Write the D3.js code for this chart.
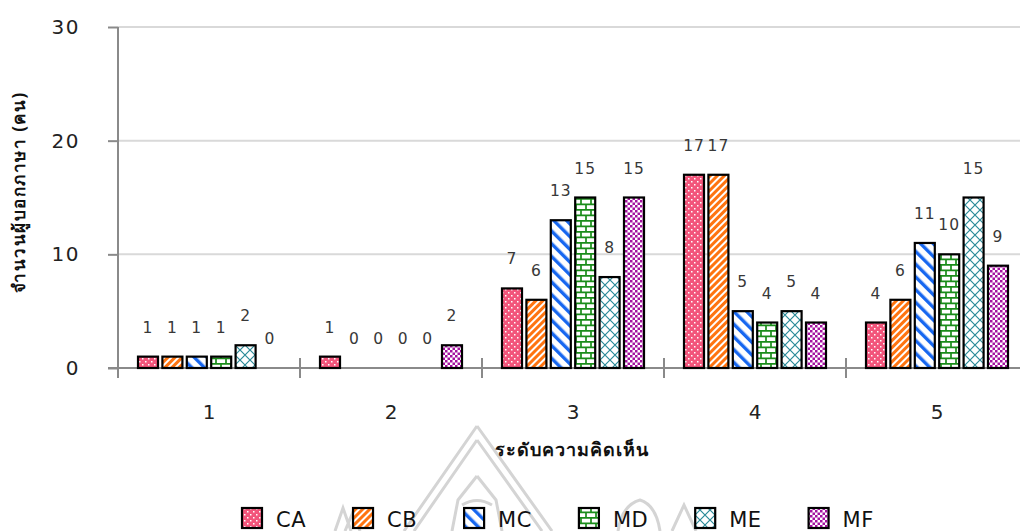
<!DOCTYPE html>
<html>
<head>
<meta charset="utf-8">
<script src="https://cdn.jsdelivr.net/npm/d3@7/dist/d3.min.js"></script>
<style>
  html, body { margin: 0; padding: 0; background: #fff; }
  svg { display: block; }
</style>
</head>
<body>
<svg id="chart" width="1020" height="531"></svg>
<script>
// Opinion level categories (x axis)
const categories = ["1", "2", "3", "4", "5"];
// Series names
const seriesNames = ["CA", "CB", "MC", "MD", "ME", "MF"];
// Number of respondents per series, one value per opinion level
const CA = [1, 1, 7, 17, 4];
const CB = [1, 0, 6, 17, 6];
const MC = [1, 0, 13, 5, 11];
const MD = [1, 0, 15, 4, 10];
const ME = [2, 0, 8, 5, 15];
const MF = [0, 2, 15, 4, 9];
const seriesValues = [CA, CB, MC, MD, ME, MF];
// Y axis ticks
const yTicks = [0, 10, 20, 30];

const svg = d3.select("#chart");
const defs = svg.append("defs");

// ---- fill patterns ----
function pat(id, w, h, transform) {
  const p = defs.append("pattern").attr("id", id)
    .attr("patternUnits", "userSpaceOnUse").attr("width", w).attr("height", h);
  if (transform) p.attr("patternTransform", transform);
  return p;
}
// CA: pink with white dots
{
  const p = pat("pCA", 6, 6);
  p.append("rect").attr("width", 6).attr("height", 6).attr("fill", "#f2557b");
  p.append("rect").attr("x", 1).attr("y", 1).attr("width", 1.5).attr("height", 1.5).attr("fill", "#fff");
  p.append("rect").attr("x", 4).attr("y", 4).attr("width", 1.5).attr("height", 1.5).attr("fill", "#fff");
}
// CB: orange narrow "/" stripes
{
  const p = pat("pCB", 5, 5, "rotate(45)");
  p.append("rect").attr("width", 5).attr("height", 5).attr("fill", "#fff");
  p.append("rect").attr("width", 3).attr("height", 5).attr("fill", "#ff7410");
}
// MC: blue wide "\" stripes
{
  const p = pat("pMC", 9, 9, "rotate(-45)");
  p.append("rect").attr("width", 9).attr("height", 9).attr("fill", "#fff");
  p.append("rect").attr("width", 3.4).attr("height", 9).attr("fill", "#1767f0");
}
// MD: green bricks
{
  const p = pat("pMD", 10, 11);
  p.append("rect").attr("width", 10).attr("height", 11).attr("fill", "#fff");
  p.append("path")
    .attr("d", "M0,0.8H10M0,6.3H10M1,0.8V6.3M6,6.3V11.8")
    .attr("stroke", "#1a8c1a").attr("stroke-width", 1.7).attr("fill", "none");
}
// ME: teal lattice
{
  const p = pat("pME", 10, 10);
  p.append("rect").attr("width", 10).attr("height", 10).attr("fill", "#fff");
  p.append("path")
    .attr("d", "M0,0L10,10M10,0L0,10")
    .attr("stroke", "#2a8a98").attr("stroke-width", 1.2).attr("fill", "none");
}
// MF: purple checkerboard
{
  const p = pat("pMF", 5, 5);
  p.append("rect").attr("width", 5).attr("height", 5).attr("fill", "#fff");
  p.append("rect").attr("width", 2.5).attr("height", 2.5).attr("fill", "#a3129f");
  p.append("rect").attr("x", 2.5).attr("y", 2.5).attr("width", 2.5).attr("height", 2.5).attr("fill", "#a3129f");
}
const fills = seriesNames.map(s => `url(#p${s})`);

// ---- faint crest in the background ----
const crest = svg.append("g").attr("fill", "none").attr("stroke", "#d4d4d4").attr("stroke-width", 3);
crest.append("path").attr("d", "M477,426L404,531M477,426L552,531");
crest.append("path").attr("d", "M477,440L414,531M477,440L542,531");
crest.append("path").attr("d", "M477,476L458,500L452,531M477,476L496,500L502,531");
crest.append("path").attr("d", "M462,505Q477,496 492,505");
crest.append("path").attr("d", "M335,531L343,508L351,531M345,531L353,512L360,531");
crest.append("path").attr("d", "M618,531Q622,505 640,500Q656,505 660,531");
crest.append("path").attr("d", "M672,531L684,505L696,531");

// ---- scales ----
const x0 = d3.scaleBand().domain(categories).range([118, 1028]).padding(0);
const x1 = d3.scaleBand().domain(seriesNames).range([20, 162]).paddingInner(0.18).paddingOuter(0);
const y = d3.scaleLinear().domain([0, 30]).range([368, 27]);

// gridlines
svg.append("g").selectAll("line").data(yTicks.filter(d => d > 0)).join("line")
  .attr("x1", 118).attr("x2", 1020)
  .attr("y1", d => y(d)).attr("y2", d => y(d))
  .attr("stroke", "#d9d9d9").attr("stroke-width", 2);

// y axis
const yAxis = svg.append("g").attr("transform", "translate(118,0)")
  .call(d3.axisLeft(y).tickValues(yTicks).tickSize(10).tickPadding(28));
yAxis.select(".domain").remove();
yAxis.selectAll(".tick line").attr("stroke", "#8a8a8a").attr("stroke-width", 2);
yAxis.selectAll(".tick text")
  .attr("font-family", "DejaVu Sans, sans-serif").attr("font-size", 20)
  .attr("fill", "#222").attr("letter-spacing", 1.5);
svg.append("line").attr("x1", 118).attr("x2", 118).attr("y1", 27).attr("y2", 378)
  .attr("stroke", "#8a8a8a").attr("stroke-width", 2);

// x axis
svg.append("line").attr("x1", 108).attr("x2", 1020).attr("y1", 368).attr("y2", 368)
  .attr("stroke", "#8a8a8a").attr("stroke-width", 2);
svg.append("g").selectAll("line").data(categories).join("line")
  .attr("x1", d => x0(d)).attr("x2", d => x0(d))
  .attr("y1", 358).attr("y2", 378)
  .attr("stroke", "#8a8a8a").attr("stroke-width", 2);
svg.append("g").selectAll("text").data(categories).join("text")
  .attr("x", d => x0(d) + x0.bandwidth() / 2).attr("y", 419)
  .attr("text-anchor", "middle")
  .attr("font-family", "DejaVu Sans, sans-serif").attr("font-size", 20)
  .attr("fill", "#222").text(d => d);

// bars
const barData = [];
seriesNames.forEach((s, si) => {
  categories.forEach((c, ci) => barData.push({ s, si, c, v: seriesValues[si][ci] }));
});
svg.append("g").selectAll("rect").data(barData.filter(d => d.v > 0)).join("rect")
  .attr("x", d => x0(d.c) + x1(d.s))
  .attr("y", d => y(d.v))
  .attr("width", x1.bandwidth())
  .attr("height", d => y(0) - y(d.v))
  .attr("fill", d => fills[d.si])
  .attr("stroke", "#000").attr("stroke-width", 2.2);

// value labels
svg.append("g").selectAll("text").data(barData).join("text")
  .attr("x", d => x0(d.c) + x1(d.s) + x1.bandwidth() / 2)
  .attr("y", d => y(d.v) - 24)
  .attr("text-anchor", "middle")
  .attr("font-family", "DejaVu Sans, sans-serif").attr("font-size", 15.5)
  .attr("letter-spacing", 1)
  .attr("fill", "#383838").text(d => d.v);

// axis titles
svg.append("text").attr("x", 572).attr("y", 456).attr("text-anchor", "middle")
  .attr("font-family", "Noto Sans, DejaVu Sans, sans-serif").attr("font-weight", "bold")
  .attr("font-size", 18).attr("letter-spacing", 1).attr("fill", "#111").text("ระดับความคิดเห็น");
svg.append("text").attr("transform", "translate(25,192) rotate(-90)").attr("text-anchor", "middle")
  .attr("font-family", "Noto Sans, DejaVu Sans, sans-serif").attr("font-weight", "bold")
  .attr("font-size", 17).attr("letter-spacing", 1.5).attr("fill", "#111").text("จำนวนผู้บอกภาษา (คน)");

// legend
const legend = svg.append("g");
let lx = 242;
seriesNames.forEach((s, i) => {
  legend.append("rect").attr("x", lx).attr("y", 508).attr("width", 20).attr("height", 20)
    .attr("fill", fills[i]).attr("stroke", "#000").attr("stroke-width", 2.2);
  const t = legend.append("text").attr("x", lx + 34).attr("y", 527)
    .attr("font-family", "DejaVu Sans, sans-serif").attr("font-size", 21)
    .attr("letter-spacing", 0.5).attr("fill", "#111").text(s);
  lx += 34 + t.node().getComputedTextLength() + 47;
});
</script>
</body>
</html>
